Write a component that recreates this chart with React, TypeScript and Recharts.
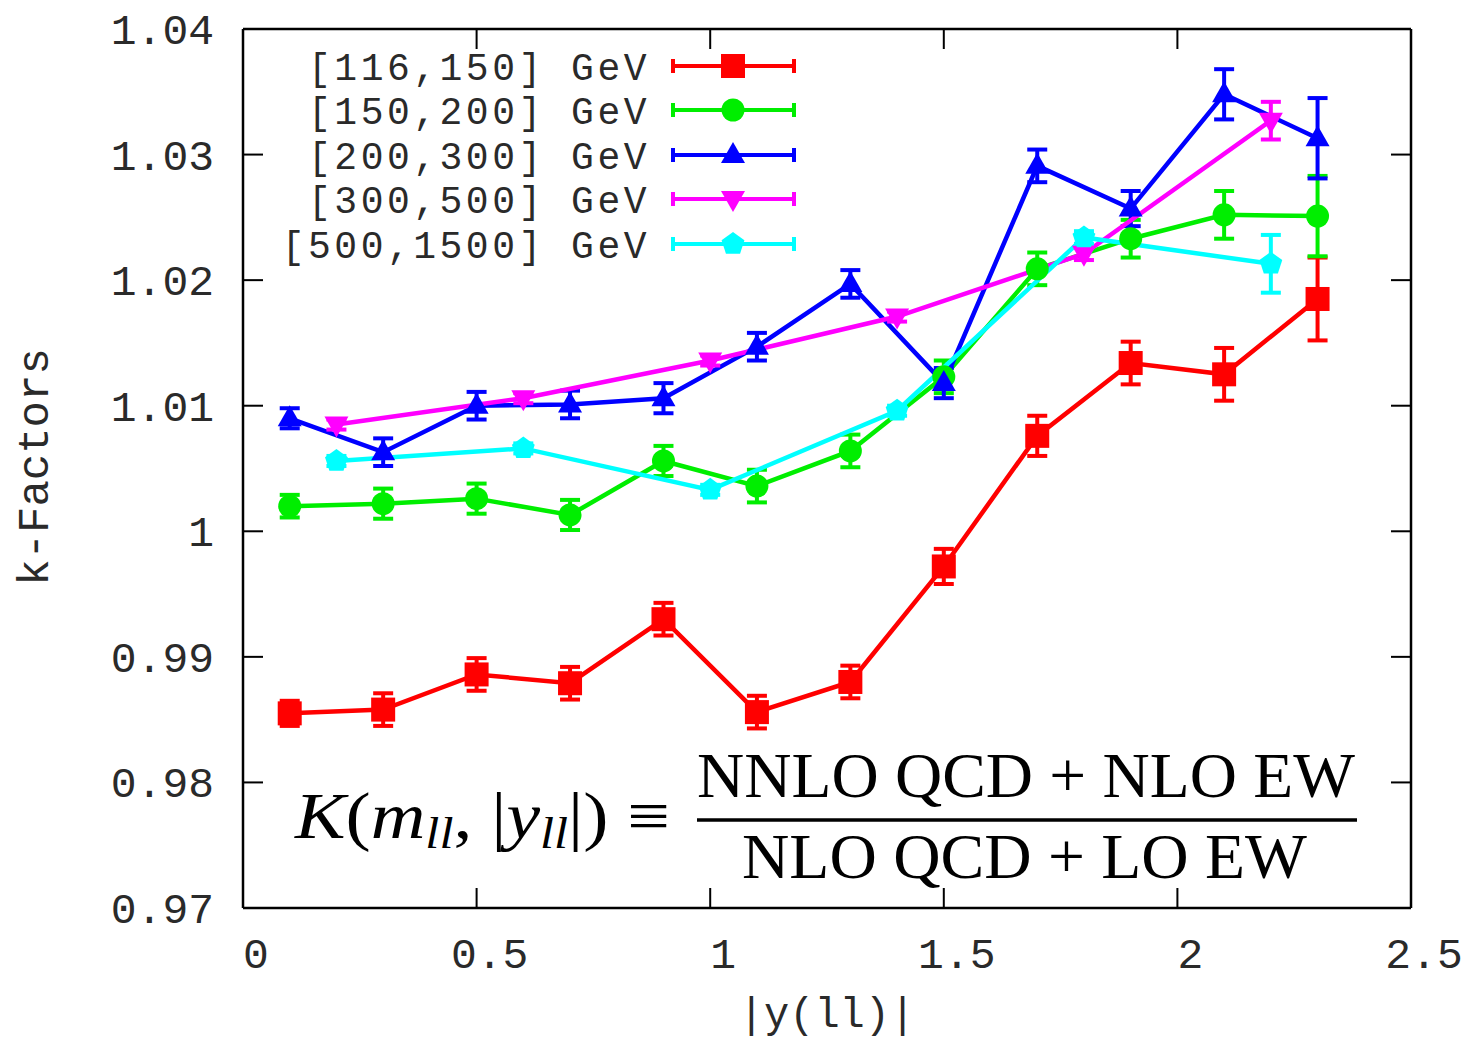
import { ErrorBar, Line, LineChart, ReferenceLine, XAxis, YAxis } from "recharts";

// |y(ll)| bin centres
const Y_ODD = [0.1, 0.3, 0.5, 0.7, 0.9, 1.1, 1.3, 1.5, 1.7, 1.9, 2.1, 2.3];
const Y_EVEN = [0.2, 0.6, 1.0, 1.4, 1.8, 2.2];

const K_116_150 = [0.9855, 0.9858, 0.9886, 0.9879, 0.993, 0.9856, 0.988, 0.9972, 1.0076, 1.0134, 1.0125, 1.0185];
const E_116_150 = [0.001, 0.0013, 0.0013, 0.0013, 0.0013, 0.0013, 0.0013, 0.0014, 0.0016, 0.0017, 0.0021, 0.0033];

const K_150_200 = [1.002, 1.0022, 1.0026, 1.0013, 1.0056, 1.0036, 1.0064, 1.0123, 1.0209, 1.0233, 1.0252, 1.0251];
const E_150_200 = [0.0009, 0.0012, 0.0012, 0.0012, 0.0012, 0.0013, 0.0013, 0.0013, 0.0013, 0.0015, 0.0019, 0.0032];

const K_200_300 = [1.009, 1.0063, 1.01, 1.0101, 1.0106, 1.0147, 1.0197, 1.0118, 1.0291, 1.0257, 1.0348, 1.0313];
const E_200_300 = [0.0008, 0.0011, 0.0011, 0.0011, 0.0012, 0.0011, 0.0011, 0.0012, 0.0013, 0.0014, 0.002, 0.0032];

const K_300_500 = [1.0085, 1.0106, 1.0136, 1.0171, 1.0221, 1.0327];
const E_300_500 = [0.0004, 0.0004, 0.0004, 0.0004, 0.0005, 0.0015];

const K_500_1500 = [1.0056, 1.0066, 1.0033, 1.0096, 1.0234, 1.0213];
const E_500_1500 = [0.0004, 0.0004, 0.0004, 0.0004, 0.0005, 0.0023];

const X_TICKS = [0, 0.5, 1, 1.5, 2, 2.5];
const X_TICK_LABELS = ["0", "0.5", "1", "1.5", "2", "2.5"];
const Y_TICKS = [0.97, 0.98, 0.99, 1.0, 1.01, 1.02, 1.03, 1.04];
const Y_TICK_LABELS = ["0.97", "0.98", "0.99", "1", "1.01", "1.02", "1.03", "1.04"];

const W = 1468;
const H = 1039;
const PLOT = { left: 243, right: 1411, top: 29, bottom: 908 };
const MONO = "'Liberation Mono', 'DejaVu Sans Mono', monospace";
const SERIF = "'Liberation Serif', 'DejaVu Serif', serif";
const TICK_LEN = 20;
const TEXT = "#2a2a2a";

type Shape = "square" | "circle" | "triangle" | "triangleDown" | "pentagon";

const SERIES: { name: string; color: string; shape: Shape; xs: number[]; k: number[]; err: number[] }[] = [
  { name: "[116,150] GeV", color: "#ff0000", shape: "square", xs: Y_ODD, k: K_116_150, err: E_116_150 },
  { name: "[150,200] GeV", color: "#00ee00", shape: "circle", xs: Y_ODD, k: K_150_200, err: E_150_200 },
  { name: "[200,300] GeV", color: "#0000ff", shape: "triangle", xs: Y_ODD, k: K_200_300, err: E_200_300 },
  { name: "[300,500] GeV", color: "#ff00ff", shape: "triangleDown", xs: Y_EVEN, k: K_300_500, err: E_300_500 },
  { name: "[500,1500] GeV", color: "#00ffff", shape: "pentagon", xs: Y_EVEN, k: K_500_1500, err: E_500_1500 },
];

function Marker({ shape, cx, cy, color }: { shape: Shape; cx: number; cy: number; color: string }) {
  switch (shape) {
    case "square":
      return <rect x={cx - 12} y={cy - 12} width={24} height={24} fill={color} />;
    case "circle":
      return <circle cx={cx} cy={cy} r={11.5} fill={color} />;
    case "triangle":
      return <polygon points={`${cx},${cy - 13} ${cx + 12},${cy + 8} ${cx - 12},${cy + 8}`} fill={color} />;
    case "triangleDown":
      return <polygon points={`${cx},${cy + 13} ${cx + 12},${cy - 8} ${cx - 12},${cy - 8}`} fill={color} />;
    default: {
      const pts = [0, 1, 2, 3, 4]
        .map((i) => {
          const a = -Math.PI / 2 + (i * 2 * Math.PI) / 5;
          return `${cx + 12 * Math.cos(a)},${cy + 12 * Math.sin(a)}`;
        })
        .join(" ");
      return <polygon points={pts} fill={color} />;
    }
  }
}

function XTick({ x, payload }: { x?: number; payload?: { value: number; index: number } }) {
  const px = Number(x);
  const i = X_TICKS.indexOf(payload?.value ?? -1);
  return (
    <g>
      <line x1={px} x2={px} y1={PLOT.bottom} y2={PLOT.bottom - TICK_LEN} stroke="#000" strokeWidth={2} />
      <line x1={px} x2={px} y1={PLOT.top} y2={PLOT.top + TICK_LEN} stroke="#000" strokeWidth={2} />
      <text x={px + 13} y={968} textAnchor="middle" fontFamily={MONO} fontSize={43} fill={TEXT}>
        {X_TICK_LABELS[i]}
      </text>
    </g>
  );
}

function YTick({ y, payload }: { y?: number; payload?: { value: number } }) {
  const py = Number(y);
  const i = Y_TICKS.findIndex((t) => Math.abs(t - (payload?.value ?? -1)) < 1e-9);
  return (
    <g>
      <line x1={PLOT.left} x2={PLOT.left + TICK_LEN} y1={py} y2={py} stroke="#000" strokeWidth={2} />
      <line x1={PLOT.right} x2={PLOT.right - TICK_LEN} y1={py} y2={py} stroke="#000" strokeWidth={2} />
      <text x={214} y={py + 15} textAnchor="end" fontFamily={MONO} fontSize={43} fill={TEXT}>
        {Y_TICK_LABELS[i]}
      </text>
    </g>
  );
}

function Overlay() {
  const rowY = [66, 110, 155, 199, 244];
  return (
    <svg width={W} height={H} style={{ position: "absolute", left: 0, top: 0, pointerEvents: "none" }}>
      {SERIES.map((s, i) => (
        <g key={s.name}>
          <text
            x={650}
            y={rowY[i] + 14}
            textAnchor="end"
            fontFamily={MONO}
            fontSize={38}
            letterSpacing={3.5}
            fill={TEXT}
          >
            {s.name}
          </text>
          <line x1={672} x2={795} y1={rowY[i]} y2={rowY[i]} stroke={s.color} strokeWidth={4} />
          <line x1={673} x2={673} y1={rowY[i] - 7} y2={rowY[i] + 7} stroke={s.color} strokeWidth={4} />
          <line x1={794} x2={794} y1={rowY[i] - 7} y2={rowY[i] + 7} stroke={s.color} strokeWidth={4} />
          <Marker shape={s.shape} cx={733} cy={rowY[i]} color={s.color} />
        </g>
      ))}
      <text
        x={36}
        y={467}
        transform="rotate(-90 36 467)"
        textAnchor="middle"
        dominantBaseline="central"
        fontFamily={MONO}
        fontSize={44}
        fill={TEXT}
      >
        k-Factors
      </text>
      <text x={827} y={1027} textAnchor="middle" fontFamily={MONO} fontSize={42} fill={TEXT}>
        |y(ll)|
      </text>
      <text x={295} y={838} textLength={375} lengthAdjust="spacingAndGlyphs" fontFamily={SERIF} fontSize={66} fill="#000">
        <tspan fontStyle="italic">K</tspan>
        <tspan>(</tspan>
        <tspan fontStyle="italic">m</tspan>
        <tspan fontStyle="italic" fontSize={44} dy={10}>ll</tspan>
        <tspan dy={-10}>, |</tspan>
        <tspan fontStyle="italic">y</tspan>
        <tspan fontStyle="italic" fontSize={44} dy={10}>ll</tspan>
        <tspan dy={-10}>|) ≡</tspan>
      </text>
      <text x={697} y={797} textLength={658} lengthAdjust="spacingAndGlyphs" fontFamily={SERIF} fontSize={64} fill="#000">
        NNLO QCD + NLO EW
      </text>
      <line x1={697} x2={1357} y1={820} y2={820} stroke="#000" strokeWidth={3.5} />
      <text x={742} y={878} textLength={565} lengthAdjust="spacingAndGlyphs" fontFamily={SERIF} fontSize={64} fill="#000">
        NLO QCD + LO EW
      </text>
    </svg>
  );
}

export default function App() {
  return (
    <div style={{ position: "absolute", left: 0, top: 0, width: W, height: H, background: "#fff" }}>
      <LineChart
        width={W}
        height={H}
        margin={{ top: PLOT.top, right: W - PLOT.right, bottom: H - PLOT.bottom - 60, left: PLOT.left - 120 }}
      >
        <XAxis
          type="number"
          dataKey="x"
          domain={[0, 2.5]}
          ticks={X_TICKS}
          allowDataOverflow
          height={60}
          tickLine={false}
          axisLine={{ stroke: "#000", strokeWidth: 2.5 }}
          tick={<XTick />}
        />
        <YAxis
          type="number"
          domain={[0.97, 1.04]}
          ticks={Y_TICKS}
          allowDataOverflow
          width={120}
          tickLine={false}
          axisLine={{ stroke: "#000", strokeWidth: 2.5 }}
          tick={<YTick />}
        />
        <ReferenceLine y={1.04} stroke="#000" strokeWidth={2.5} ifOverflow="visible" />
        <ReferenceLine x={2.5} stroke="#000" strokeWidth={2.5} ifOverflow="visible" />
        {SERIES.map((s) => (
          <Line
            key={s.name}
            data={s.xs.map((x, i) => ({ x, k: s.k[i], err: s.err[i] }))}
            dataKey="k"
            name={s.name}
            type="linear"
            stroke={s.color}
            strokeWidth={4.5}
            isAnimationActive={false}
            activeDot={false}
            dot={(p: { cx?: number; cy?: number; index?: number }) => (
              <Marker key={p.index} shape={s.shape} cx={Number(p.cx)} cy={Number(p.cy)} color={s.color} />
            )}
          >
            <ErrorBar dataKey="err" direction="y" width={10} strokeWidth={4} stroke={s.color} isAnimationActive={false} />
          </Line>
        ))}
      </LineChart>
      <Overlay />
    </div>
  );
}
